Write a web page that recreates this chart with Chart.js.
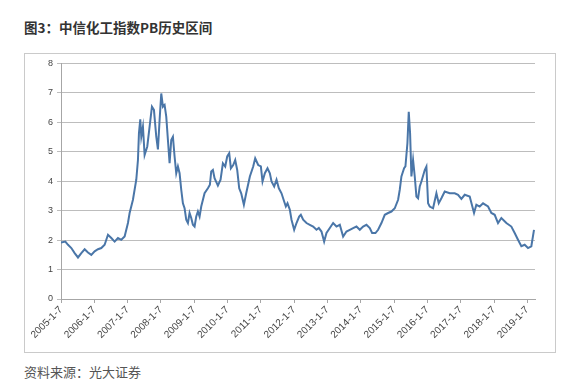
<!DOCTYPE html>
<html>
<head>
<meta charset="utf-8">
<script src="https://cdn.jsdelivr.net/npm/chart.js@4.4.0/dist/chart.umd.min.js"></script>
<style>
    body { margin: 0; background: #fff; width: 568px; height: 388px; position: relative; overflow: hidden; font-family: "Noto Sans CJK SC", sans-serif; }
    #title { position: absolute; left: 24px; top: 20px; font-size: 13.5px; line-height: 14px; font-weight: bold; color: #333; }
    #frame { position: absolute; left: 24px; top: 53px; width: 530px; height: 298px; border: 1px solid #cacaca; }
    #source { position: absolute; left: 24px; top: 365px; font-size: 13px; line-height: 14px; color: #555; }
</style>
</head>
<body>
<div id="title">图3：中信化工指数PB历史区间</div>
<div id="frame"><canvas id="pbChart" width="530" height="298"></canvas></div>
<div id="source">资料来源：光大证券</div>
<script>
// PB of the CITIC chemical index (x = decimal year)
const pbDates = [
    2005.00, 2005.13, 2005.21, 2005.31, 2005.41, 2005.51, 2005.61, 2005.71, 2005.81, 2005.91,
    2006.01, 2006.11, 2006.21, 2006.31, 2006.41, 2006.51, 2006.61, 2006.71, 2006.81, 2006.91,
    2007.01, 2007.06, 2007.16, 2007.26, 2007.31, 2007.34, 2007.38, 2007.41, 2007.46, 2007.51,
    2007.59, 2007.66, 2007.73, 2007.79, 2007.86, 2007.91, 2007.96, 2008.01, 2008.06, 2008.11,
    2008.16, 2008.21, 2008.26, 2008.31, 2008.36, 2008.41, 2008.46, 2008.51, 2008.56, 2008.61,
    2008.66, 2008.71, 2008.76, 2008.81, 2008.86, 2008.91, 2008.96, 2009.01, 2009.06, 2009.11,
    2009.16, 2009.21, 2009.31, 2009.41, 2009.47, 2009.51, 2009.56, 2009.61, 2009.71, 2009.79,
    2009.86, 2009.93, 2009.99, 2010.05, 2010.10, 2010.17, 2010.23, 2010.29, 2010.35, 2010.41,
    2010.49, 2010.56, 2010.67, 2010.77, 2010.83, 2010.92, 2011.00, 2011.05, 2011.12, 2011.20,
    2011.27, 2011.32, 2011.40, 2011.47, 2011.54, 2011.62, 2011.70, 2011.75, 2011.80, 2011.87,
    2011.92, 2012.00, 2012.07, 2012.15, 2012.20, 2012.27, 2012.37, 2012.47, 2012.57, 2012.67,
    2012.74, 2012.82, 2012.90, 2012.97, 2013.07, 2013.17, 2013.27, 2013.37, 2013.47, 2013.57,
    2013.67, 2013.77, 2013.87, 2013.97, 2014.07, 2014.17, 2014.27, 2014.34, 2014.44, 2014.52,
    2014.62, 2014.72, 2014.82, 2014.92, 2015.02, 2015.12, 2015.17, 2015.22, 2015.30, 2015.34,
    2015.40, 2015.44, 2015.48, 2015.52, 2015.57, 2015.62, 2015.67, 2015.72, 2015.77, 2015.82,
    2015.92, 2015.97, 2016.02, 2016.07, 2016.17, 2016.27, 2016.34, 2016.42, 2016.52, 2016.67,
    2016.82, 2016.92, 2017.02, 2017.12, 2017.27, 2017.40, 2017.47, 2017.57, 2017.67, 2017.82,
    2017.92, 2018.02, 2018.12, 2018.22, 2018.37, 2018.52, 2018.62, 2018.72, 2018.82, 2018.92,
    2019.02, 2019.12, 2019.20
];
const pbValues = [
    1.92, 1.95, 1.84, 1.73, 1.56, 1.41, 1.56, 1.69, 1.58, 1.50,
    1.62, 1.69, 1.73, 1.84, 2.18, 2.07, 1.95, 2.07, 2.01, 2.12,
    2.58, 2.92, 3.37, 4.05, 4.72, 5.63, 6.10, 5.51, 5.85, 4.89,
    5.18, 5.85, 6.53, 6.42, 5.51, 5.08, 6.08, 6.98, 6.53, 6.59,
    6.19, 5.40, 4.61, 5.40, 5.51, 4.84, 4.27, 4.50, 4.27, 3.71,
    3.25, 3.08, 2.69, 2.58, 2.92, 2.75, 2.52, 2.46, 2.80, 2.97,
    2.80, 3.14, 3.59, 3.76, 3.88, 4.33, 4.38, 4.10, 3.85, 4.05,
    4.61, 4.50, 4.84, 4.95, 4.44, 4.55, 4.72, 4.38, 3.76, 3.59,
    3.20, 3.59, 4.16, 4.50, 4.78, 4.55, 4.50, 3.99, 4.27, 4.44,
    4.27, 3.99, 3.82, 4.05, 3.76, 3.59, 3.31, 3.14, 3.25, 3.03,
    2.69, 2.35, 2.58, 2.80, 2.86, 2.69, 2.58, 2.52, 2.46, 2.35,
    2.41, 2.29, 1.95, 2.24, 2.41, 2.58, 2.46, 2.52, 2.12, 2.29,
    2.35, 2.41, 2.46, 2.35, 2.46, 2.52, 2.41, 2.24, 2.24, 2.35,
    2.58, 2.86, 2.92, 2.97, 3.08, 3.37, 3.71, 4.16, 4.44, 4.50,
    5.29, 6.36, 5.63, 4.16, 4.72, 4.16, 3.48, 3.42, 3.82, 3.99,
    4.38, 4.50, 3.25, 3.14, 3.08, 3.59, 3.25, 3.42, 3.65, 3.59,
    3.59, 3.54, 3.40, 3.54, 3.48, 2.92, 3.20, 3.14, 3.25, 3.14,
    2.92, 2.86, 2.58, 2.75, 2.58, 2.46, 2.24, 2.01, 1.79, 1.84,
    1.73, 1.79, 2.35
];
const xTickLabels = ['2005-1-7', '2006-1-7', '2007-1-7', '2008-1-7', '2009-1-7', '2010-1-7', '2011-1-7',
    '2012-1-7', '2013-1-7', '2014-1-7', '2015-1-7', '2016-1-7', '2017-1-7', '2018-1-7', '2019-1-7'];
const firstYear = 2005;
const lastDate = 2019.23;

const points = pbDates.map((d, i) => ({ x: d, y: pbValues[i] }));

new Chart(document.getElementById('pbChart'), {
    type: 'line',
    data: {
        datasets: [{
            data: points,
            borderColor: '#4a76a8',
            borderWidth: 2,
            pointRadius: 0,
            tension: 0,
            fill: false
        }]
    },
    options: {
        responsive: false,
        animation: false,
        layout: { padding: { top: 9, right: 20, left: 0, bottom: 0 } },
        plugins: { legend: { display: false }, tooltip: { enabled: false } },
        scales: {
            x: {
                type: 'linear',
                min: firstYear,
                max: lastDate,
                afterFit: function (scale) { scale.height = 53; },
                grid: { drawOnChartArea: false, drawTicks: true, tickLength: 4, color: '#a6a6a6' },
                border: { color: '#a6a6a6' },
                ticks: {
                    stepSize: 1,
                    includeBounds: false,
                    autoSkip: false,
                    minRotation: 45,
                    maxRotation: 45,
                    padding: 1,
                    color: '#444',
                    font: { family: 'Liberation Sans', size: 10 },
                    callback: function (v) { return xTickLabels[Math.round(v - firstYear)]; }
                }
            },
            y: {
                min: 0,
                max: 8,
                afterFit: function (scale) { scale.width = 36; },
                grid: { color: '#bdbdbd', tickLength: 4 },
                border: { color: '#a6a6a6' },
                ticks: {
                    stepSize: 1,
                    padding: 4,
                    color: '#444',
                    font: { family: 'Liberation Sans', size: 9 }
                }
            }
        }
    }
});
</script>
</body>
</html>
